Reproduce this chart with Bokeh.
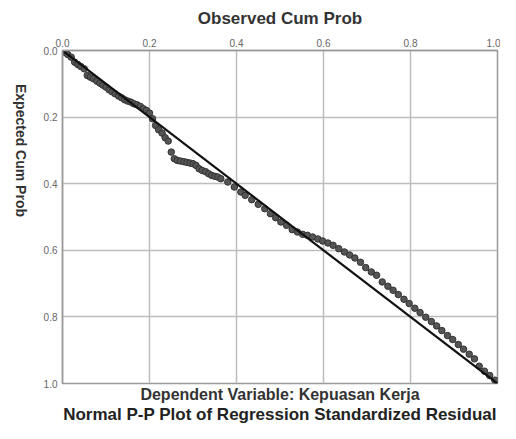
import math
from bokeh.plotting import figure
from bokeh.models import Range1d, FixedTicker, NumeralTickFormatter, Title
from bokeh.embed import file_html
from bokeh.resources import INLINE

# Observed cumulative probability (x) and expected cumulative probability (y)
observed = [0.005, 0.012, 0.020, 0.028, 0.035, 0.042, 0.050, 0.057, 0.064, 0.071,
            0.079, 0.086, 0.093, 0.100, 0.107, 0.114, 0.121, 0.129, 0.136, 0.143,
            0.150, 0.157, 0.164, 0.171, 0.179, 0.186, 0.193, 0.200, 0.207, 0.214,
            0.221, 0.229, 0.236, 0.243, 0.250, 0.257, 0.264, 0.271, 0.279, 0.286,
            0.293, 0.300, 0.307, 0.314, 0.321, 0.329, 0.336, 0.343, 0.350, 0.357,
            0.364, 0.380, 0.395, 0.410, 0.420, 0.435, 0.450, 0.465, 0.478, 0.490,
            0.502, 0.515, 0.528, 0.540, 0.552, 0.563, 0.575, 0.587, 0.598, 0.610,
            0.622, 0.635, 0.648, 0.660, 0.672, 0.685, 0.697, 0.710, 0.722, 0.735,
            0.748, 0.760, 0.772, 0.785, 0.797, 0.810, 0.822, 0.835, 0.848, 0.860,
            0.872, 0.885, 0.897, 0.910, 0.922, 0.935, 0.947, 0.958, 0.970, 0.982,
            0.994]
expected = [0.005, 0.012, 0.020, 0.035, 0.042, 0.048, 0.055, 0.075, 0.080, 0.085,
            0.092, 0.098, 0.104, 0.110, 0.118, 0.124, 0.130, 0.137, 0.142, 0.148,
            0.152, 0.155, 0.160, 0.163, 0.168, 0.175, 0.180, 0.188, 0.205, 0.225,
            0.238, 0.248, 0.262, 0.272, 0.305, 0.325, 0.330, 0.332, 0.334, 0.336,
            0.338, 0.340, 0.345, 0.355, 0.360, 0.364, 0.370, 0.375, 0.378, 0.380,
            0.385, 0.395, 0.410, 0.425, 0.435, 0.448, 0.462, 0.475, 0.490, 0.502,
            0.515, 0.525, 0.538, 0.545, 0.552, 0.555, 0.560, 0.566, 0.572, 0.578,
            0.585, 0.595, 0.605, 0.614, 0.623, 0.636, 0.652, 0.665, 0.675, 0.695,
            0.708, 0.720, 0.733, 0.747, 0.760, 0.774, 0.787, 0.801, 0.814, 0.827,
            0.841, 0.856, 0.868, 0.883, 0.897, 0.912, 0.926, 0.948, 0.963, 0.976,
            0.990]
ref_line = [0.0, 1.0]
ticks = [0.0, 0.2, 0.4, 0.6, 0.8, 1.0]

FONT = "Liberation Sans"

p = figure(width=500, height=423, output_backend="svg", toolbar_location=None,
           x_range=Range1d(0, 1), y_range=Range1d(1, 0),
           x_axis_location="above",
           min_border_left=62, min_border_right=3, min_border_top=50,
           min_border_bottom=0)

p.outline_line_color = "#9a9a9a"
p.outline_line_width = 1.5

for ax in (p.xaxis[0], p.yaxis[0]):
    ax.ticker = FixedTicker(ticks=ticks)
    ax.formatter = NumeralTickFormatter(format="0.0")
    ax.major_tick_in = 0
    ax.major_tick_out = 0
    ax.minor_tick_line_color = None
    ax.axis_line_color = "#9a9a9a"
    ax.axis_line_width = 1.5
    ax.major_label_text_font = FONT
    ax.major_label_text_font_size = "10px"
    ax.major_label_text_color = "#666666"
    ax.axis_label_text_font = FONT
    ax.axis_label_text_font_style = "bold"
    ax.axis_label_text_color = "#333333"

p.xaxis.axis_label = "Observed Cum Prob"
p.xaxis.axis_label_text_font_size = "17px"
p.xaxis.major_label_standoff = 4
p.xaxis.axis_label_standoff = 8

p.yaxis.axis_label = "Expected Cum Prob"
p.yaxis.axis_label_text_font_size = "14px"
p.yaxis.major_label_standoff = 5
p.yaxis.axis_label_standoff = 20
p.yaxis.axis_label_orientation = -math.pi / 2

p.grid.grid_line_color = "#bdbdbd"
p.grid.grid_line_width = 1.5

p.scatter(observed, expected, size=6.5, fill_color="#555555", line_color="#333333",
          line_width=1)
p.line(ref_line, ref_line, line_color="#111111", line_width=2.2)

sub = Title(text="Dependent Variable: Kepuasan Kerja", align="center",
            text_font=FONT, text_font_size="16px", text_font_style="bold",
            text_color="#333333", standoff=0, offset=0)
main = Title(text="Normal P-P Plot of Regression Standardized Residual",
             align="center", text_font=FONT, text_font_size="17px",
             text_font_style="bold", text_color="#222222", standoff=0)
p.add_layout(sub, "below")
p.add_layout(main, "below")

open("out.html", "w").write(file_html(p, INLINE))
